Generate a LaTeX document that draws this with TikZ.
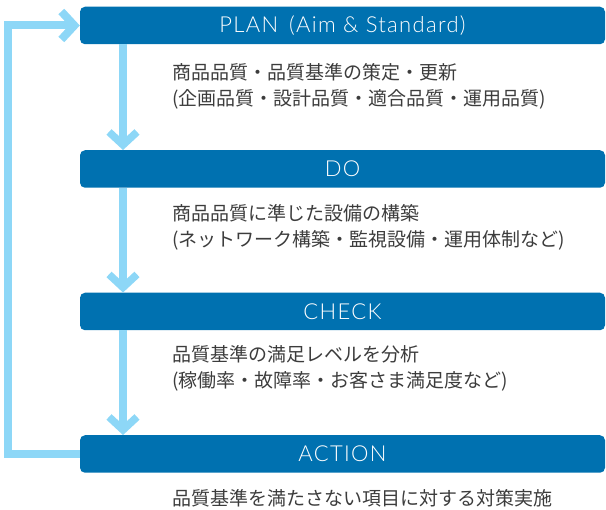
\documentclass[tikz,border=0pt]{standalone}
\usepackage{fontspec}
\newfontfamily\jpfont{Noto Sans CJK JP}
\newfontfamily\boxfont[LetterSpace=6]{Lato Light}
\usetikzlibrary{arrows.meta}
\definecolor{boxblue}{HTML}{0071B0}
\definecolor{arrowblue}{HTML}{8DD7F7}
\definecolor{txtgray}{HTML}{3C3C3C}
\tikzset{
  stagebox/.style={fill=boxblue, draw=none, rounded corners=5pt, minimum width=525pt,
    minimum height=37.5pt, inner sep=0pt, text=white,
    font=\boxfont\fontsize{22}{26}\selectfont},
  desc/.style={anchor=base west, inner sep=0pt, text=txtgray,
    font=\jpfont\fontsize{19}{24}\selectfont},
  flow/.style={draw=arrowblue, line width=7.5pt,
    -{Straight Barb[length=13pt, width=28pt]}},
  loopline/.style={draw=arrowblue, line width=8pt, line join=miter,
    -{Straight Barb[length=13pt, width=28pt]}},
}
\begin{document}
\begin{tikzpicture}[x=1pt, y=-1pt]
\useasboundingbox (0,0) rectangle (606,510);
\node[stagebox] (plan) at (342.5,25.5) {PLAN\hspace{0.5em}(Aim \& Standard)};
\node[stagebox] (do) at (342.5,169) {DO};
\node[stagebox] (check) at (342.5,311.5) {CHECK};
\node[stagebox] (action) at (342.5,454) {ACTION};

\node[desc] (plan1) at (172,80) {商品品質・品質基準の策定・更新};
\node[desc] (plan2) at (172,105.5) {(企画品質・設計品質・適合品質・運用品質)};
\node[desc] (do1) at (172,221) {商品品質に準じた設備の構築};
\node[desc] (do2) at (172,246.5) {(ネットワーク構築・監視設備・運用体制など)};
\node[desc] (check1) at (172,362) {品質基準の満足レベルを分析};
\node[desc] (check2) at (172,387.5) {(稼働率・故障率・お客さま満足度など)};
\node[desc] (action1) at (172,506) {品質基準を満たさない項目に対する対策実施};

\coordinate (ax) at (123,0);
\coordinate (lx) at (8,0);
\draw[flow] (plan.south -| ax) -- (do.north -| ax);
\draw[flow] (do.south -| ax) -- (check.north -| ax);
\draw[flow] (check.south -| ax) -- (action.north -| ax);
\draw[loopline] (action.west) -- (action.west -| lx) |- (plan.west);
\end{tikzpicture}
\end{document}
